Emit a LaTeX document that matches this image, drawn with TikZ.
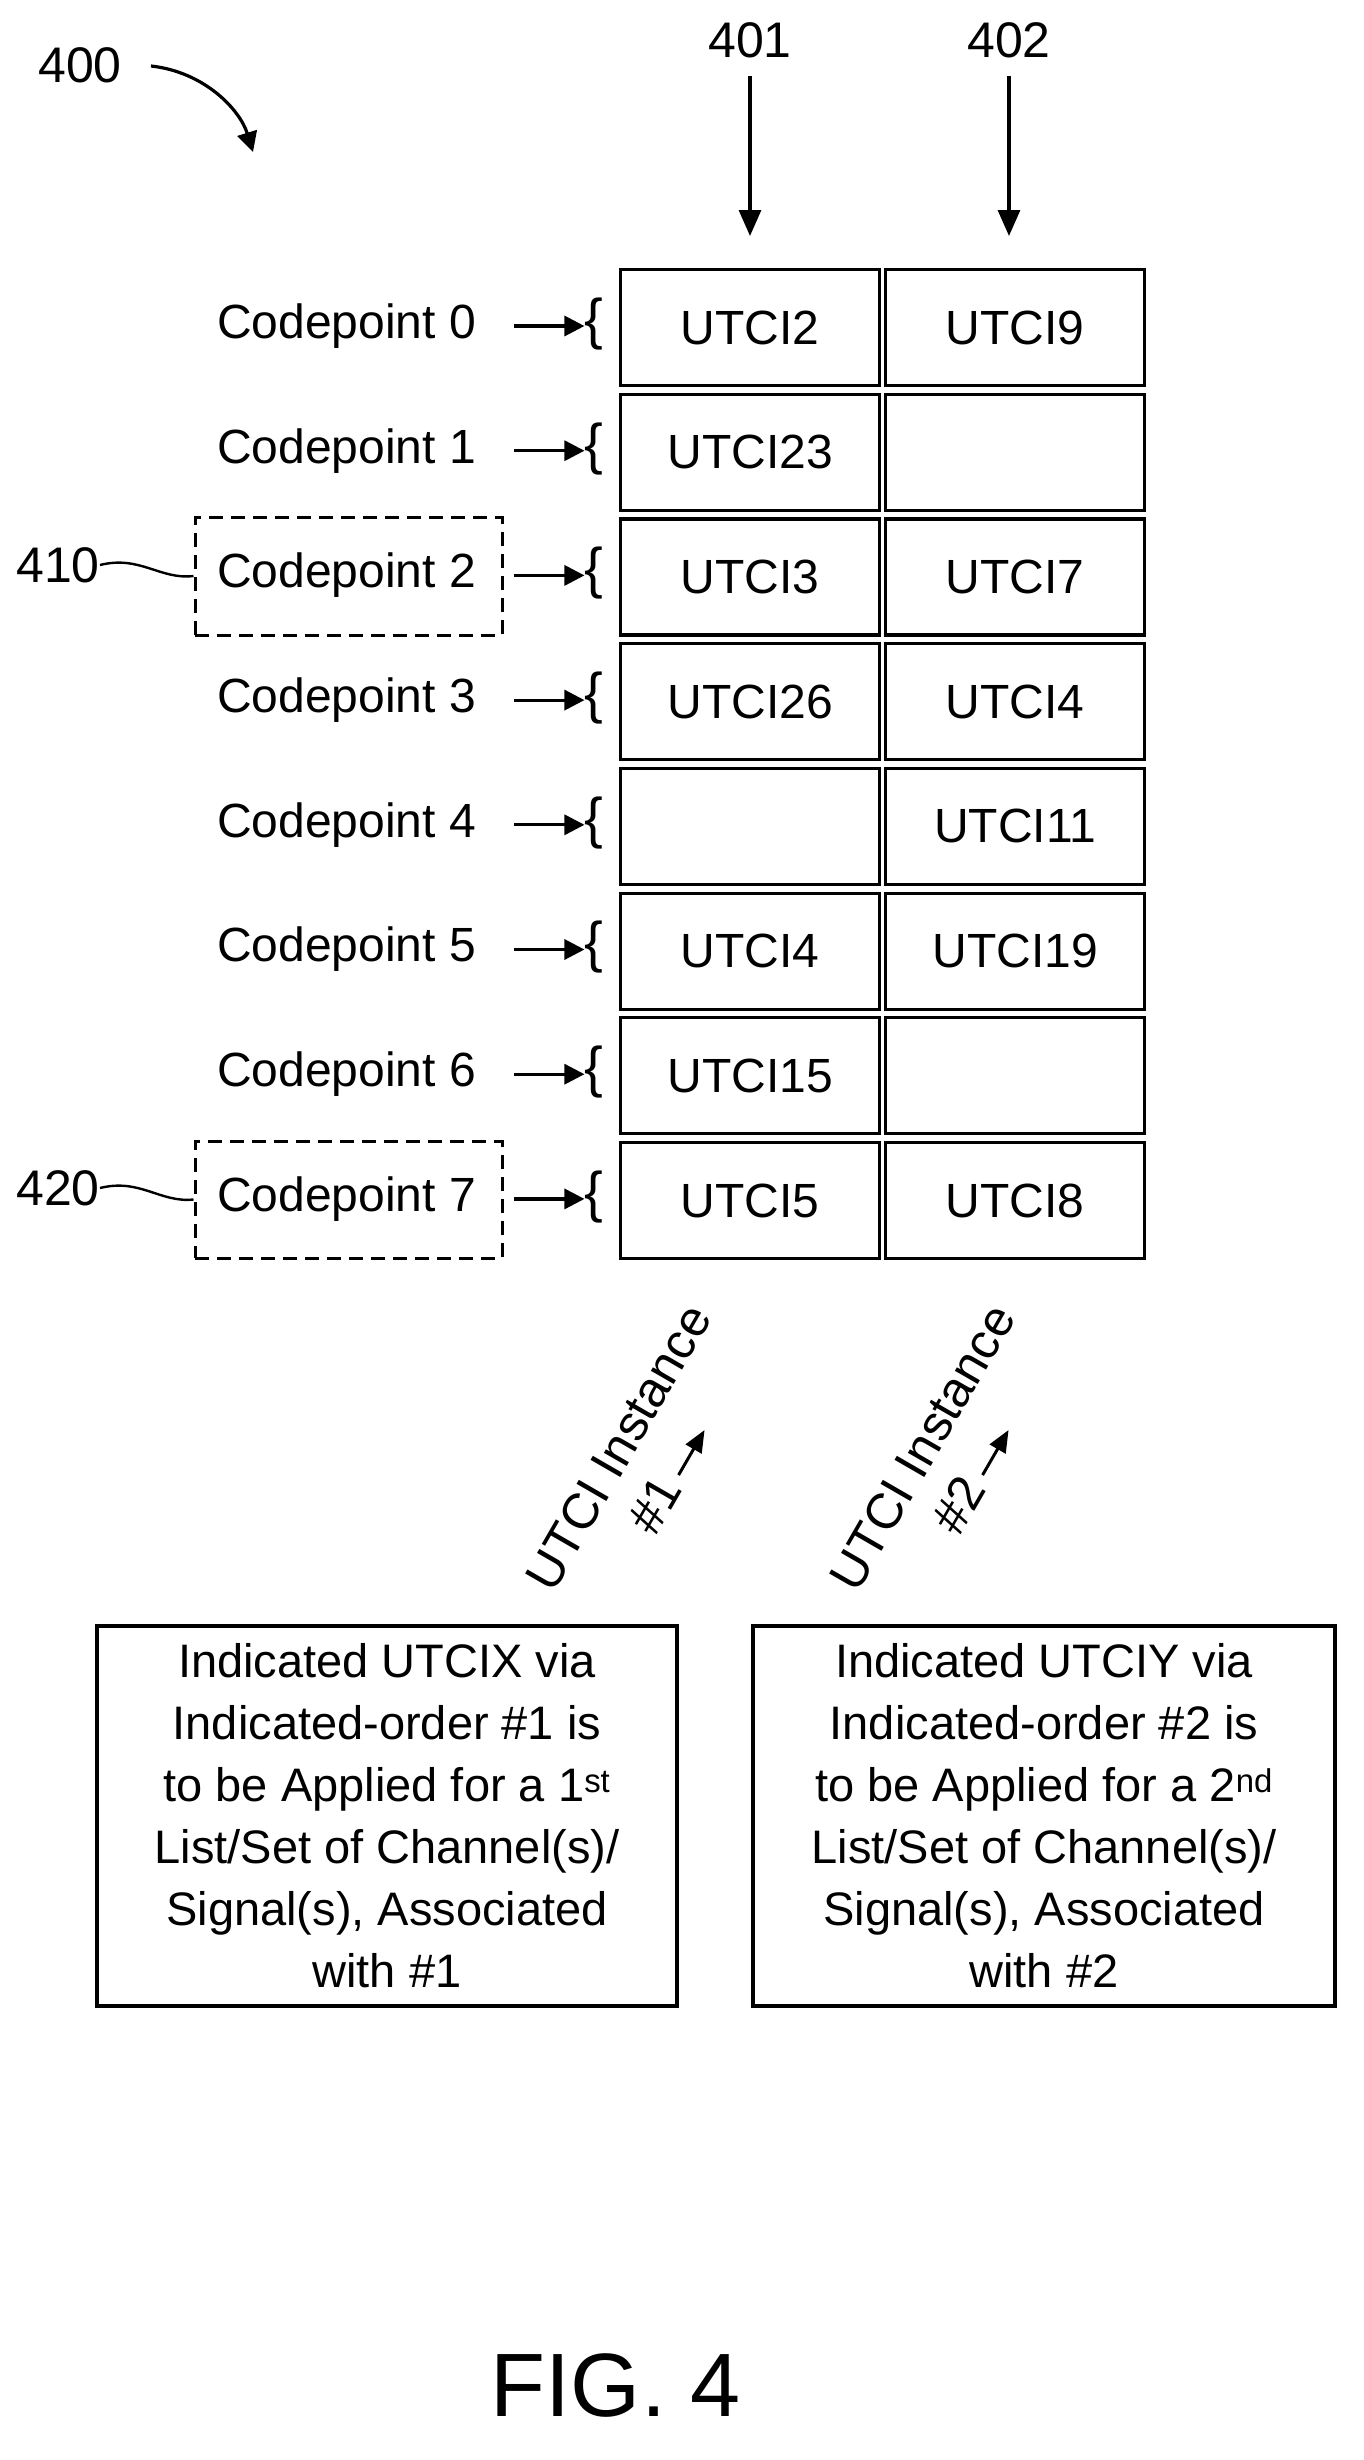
\documentclass[tikz,border=0pt]{standalone}
\usepackage{fontspec}
\setmainfont{Liberation Sans}
\usetikzlibrary{arrows.meta,decorations.pathmorphing}
\begin{document}
\begin{tikzpicture}[x=1pt,y=-1pt,
  cell/.style={draw,line width=3.2pt,minimum width=259pt,minimum height=116pt,anchor=north west,inner sep=0pt,font=\fontsize{48}{55}\selectfont},
  cp/.style={font=\fontsize{48}{55}\selectfont,inner sep=0pt},
  lab/.style={font=\fontsize{50}{56}\selectfont,inner sep=0pt},
  arr/.style={line width=3.2pt,-{Triangle[length=26pt,width=22pt]}},
  sarr/.style={line width=3.2pt,-{Triangle[length=20pt,width=20pt]}},
  dbox/.style={draw,line width=3pt,dash pattern=on 14pt off 8pt},
  big/.style={draw,line width=3.2pt,align=center,inner sep=0pt,font=\fontsize{47}{62}\selectfont}]
\useasboundingbox (0,0) rectangle (1364,2460);
% header
\node[lab] (n400) at (80,65) {400};
\coordinate (c400) at (253,152);
\draw[sarr] (151,66) .. controls (205,72) and (240,110) .. (c400);
\node[lab] (n401) at (750,40) {401};
\node[lab] (n402) at (1009,40) {402};
\coordinate (a401) at (750,236);
\coordinate (a402) at (1009,236);
\draw[arr] (n401.south)++(0,18) -- (a401);
\draw[arr] (n402.south)++(0,18) -- (a402);
% rows
\foreach \i/\a/\b in {0/UTCI2/UTCI9,1/UTCI23/,2/UTCI3/UTCI7,3/UTCI26/UTCI4,4//UTCI11,5/UTCI4/UTCI19,6/UTCI15/,7/UTCI5/UTCI8}{
  \pgfmathsetmacro\yy{268+124.7*\i}
  \node[cell] (l\i) at (619,\yy) {\a};
  \node[cell] (r\i) at (884,\yy) {\b};
  \node[cp,anchor=west] (cp\i) at (217,\yy+58) {Codepoint \i};
  \node[cp] (br\i) at (594,\yy+56) {\fontsize{56}{56}\selectfont\{};
  \coordinate (s\i) at (514,\yy+58);
  \draw[sarr] (s\i) -- (s\i -| br\i.west);
}
\node[dbox,minimum width=307pt,minimum height=118pt] (d2) at (348.5,576) {};
\node[dbox,minimum width=307pt,minimum height=117pt] (d7) at (348.5,1199.5) {};
\node[lab,anchor=east] (n410) at (100,565) {410};
\node[lab,anchor=east] (n420) at (100,1188) {420};
\draw[line width=2.4pt] (n410.east) .. controls (140,555) and (160,580) .. (d2.west);
\draw[line width=2.4pt] (n420.east) .. controls (140,1178) and (160,1203) .. (d7.west);
% rotated labels
\node[lab,rotate=60,align=center,font=\fontsize{50}{60}\selectfont] (u1) at (644,1462) {UTCI Instance\\\#1\,\tikz[baseline]\draw[line width=3pt,-{Triangle[length=22pt,width=18pt]}](0,11pt)--(52pt,11pt);};
\node[lab,rotate=60,align=center,font=\fontsize{50}{60}\selectfont] (u2) at (948,1462) {UTCI Instance\\\#2\,\tikz[baseline]\draw[line width=3pt,-{Triangle[length=22pt,width=18pt]}](0,11pt)--(52pt,11pt);};
% bottom boxes
\node[big,minimum width=580pt,minimum height=380pt] (b1) at (387,1816) {Indicated UTCIX via\\Indicated-order \#1 is\\to be Applied for a 1\textsuperscript{st}\\List/Set of Channel(s)/\\Signal(s), Associated\\with \#1};
\node[big,minimum width=582pt,minimum height=380pt] (b2) at (1044,1816) {Indicated UTCIY via\\Indicated-order \#2 is\\to be Applied for a 2\textsuperscript{nd}\\List/Set of Channel(s)/\\Signal(s), Associated\\with \#2};
\node[font=\fontsize{90}{100}\selectfont,inner sep=0pt] (fig) at (616,2385) {FIG. 4};
\end{tikzpicture}
\end{document}
